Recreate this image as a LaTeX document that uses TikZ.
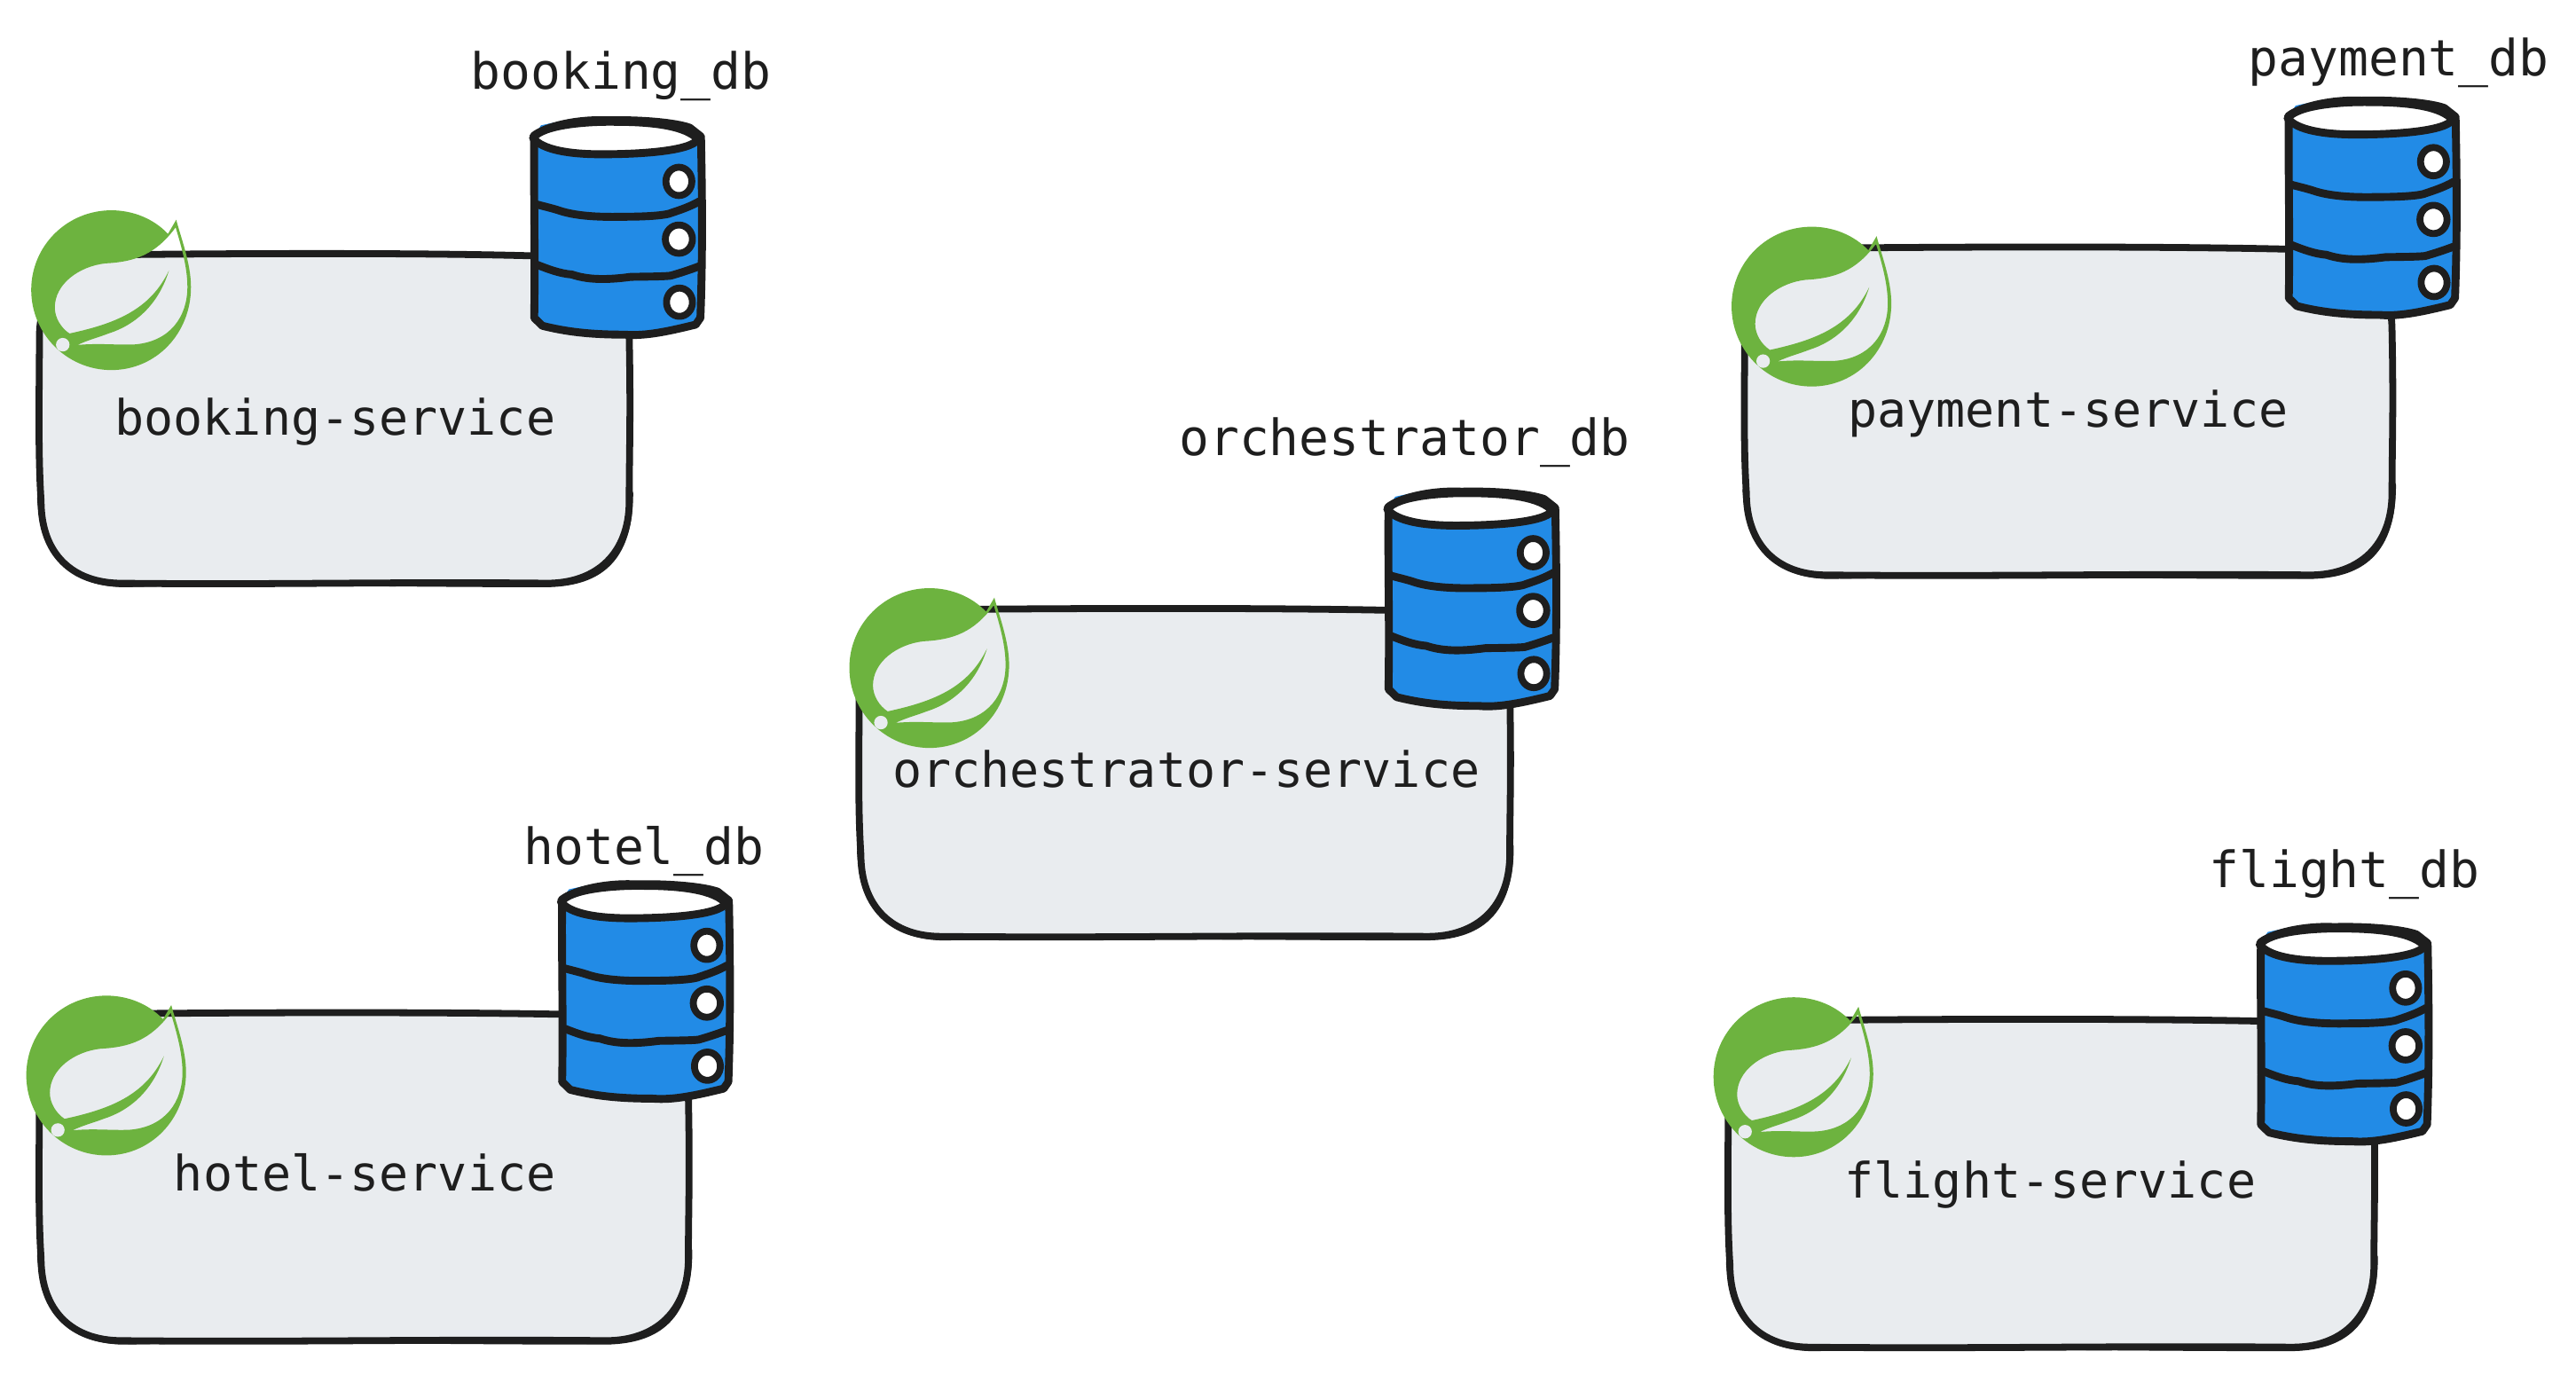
\documentclass[tikz,border=0pt]{standalone}
\usepackage{fontspec}
\setmonofont{DejaVu Sans Mono}
\definecolor{ink}{HTML}{1E1E1E}
\definecolor{boxfill}{HTML}{E9ECEF}
\definecolor{dbblue}{HTML}{228BE6}
\definecolor{leafgreen}{HTML}{6DB33F}
\tikzset{
  boxline/.style={draw=ink,line width=2.1pt,line cap=round,line join=round},
  dbline/.style={draw=ink,line width=2.4pt,line cap=round,line join=round},
  svclabel/.style={anchor=base,inner sep=0pt,text=ink,font=\ttfamily\fontsize{14.85}{18}\selectfont},
  dblabel/.style={anchor=base,inner sep=0pt,text=ink,font=\ttfamily\fontsize{15.2}{18}\selectfont}
}
% service box: #1 left, #2 top, #3 width, #4 height
\newcommand{\svcbox}[4]{%
  \begin{scope}[shift={(#1,#2)}]
    \pgfmathsetmacro{\wa}{#3}\pgfmathsetmacro{\hh}{#4}
    \fill[boxfill] (0,50) .. controls (0,20) and (20,0) .. (50,0) -- ({\wa-50},0) .. controls ({\wa-20},0) and (\wa,20) .. (\wa,50)
      -- (\wa,{\hh-50}) .. controls (\wa,{\hh-18}) and ({\wa-20},\hh) .. ({\wa-50},\hh) -- (50,\hh) .. controls (20,\hh) and (0,{\hh-18}) .. (0,{\hh-50}) -- cycle;
    \draw[boxline] (0,50) .. controls (0,20) and (20,0) .. (50,0) .. controls ({\wa*.4},-1) and ({\wa*.7},-1) .. ({\wa-50},1) .. controls ({\wa-20},1) and (\wa,20) .. (\wa,50)
      .. controls ({\wa+1},{\hh*.5}) and (\wa,{\hh*.6}) .. (\wa,{\hh-50}) .. controls (\wa,{\hh-18}) and ({\wa-20},\hh) .. ({\wa-50},\hh)
      .. controls ({\wa*.6},{\hh-1}) and ({\wa*.4},{\hh+1}) .. (50,\hh) .. controls (20,\hh) and (1,{\hh-18}) .. (1,{\hh-50})
      .. controls (-1,{\hh*.6}) and (0,{\hh*.4}) .. (0,50);
    \draw[boxline,line width=1.4pt] ({\wa+1},{\hh-55}) .. controls ({\wa+1},{\hh-14}) and ({\wa-18},{\hh+1}) .. ({\wa-52},{\hh+1})
      .. controls ({\wa*.6},{\hh+1}) and ({\wa*.4},{\hh-1}) .. (52,{\hh+1}) .. controls (22,{\hh+1}) and (2,{\hh-16}) .. (0,{\hh-52});
  \end{scope}}
% spring leaf: #1 left, #2 top
\newcommand{\springleaf}[2]{%
  \begin{scope}[shift={(#1,#2)},scale=.1794,shift={(-48,-60)}]
    \fill[leafgreen,even odd rule]
      (512,140) .. controls (465,90) and (395,60) .. (320,60)
      .. controls (170,60) and (48,180) .. (48,330)
      .. controls (48,480) and (170,602) .. (320,602)
      .. controls (470,602) and (590,480) .. (590,320)
      .. controls (590,240) and (555,150) .. (540,92) -- cycle
      (538,118) .. controls (555,175) and (578,250) .. (578,320)
      .. controls (578,420) and (520,505) .. (400,515)
      .. controls (340,518) and (280,510) .. (205,517)
      .. controls (240,500) and (280,490) .. (310,478)
      .. controls (400,450) and (480,380) .. (515,265)
      .. controls (450,400) and (330,445) .. (178,478)
      .. controls (150,460) and (128,425) .. (128,390)
      .. controls (128,310) and (210,250) .. (300,240)
      .. controls (400,235) and (470,210) .. (538,118) -- cycle;
    \fill[boxfill] (155,516) circle[radius=23];
  \end{scope}}
% database: #1 left, #2 top
\newcommand{\dbicon}[2]{%
  \begin{scope}[shift={(#1,#2)},scale=.1794,shift={(-50,-38)}]
    \fill[dbblue] (60,100) -- (85,62) .. controls (180,40) and (240,38) .. (310,38) .. controls (420,38) and (520,45) .. (590,65) -- (628,100) -- (632,710) -- (610,745) .. controls (500,770) and (440,778) .. (370,778) .. controls (250,775) and (170,770) .. (90,745) -- (62,715) -- cycle;
    \filldraw[fill=white,dbline] (58,105) .. controls (90,60) and (240,48) .. (340,50) .. controls (470,50) and (580,65) .. (618,110) .. controls (590,150) and (420,160) .. (290,160) .. controls (180,160) and (90,145) .. (58,105) -- cycle;
    \draw[dbline] (60,98) .. controls (100,65) and (210,40) .. (310,45) .. controls (420,42) and (540,52) .. (590,70) -- (628,100);
    \draw[dbline] (62,110) .. controls (60,300) and (66,500) .. (62,715) -- (90,742) .. controls (170,762) and (250,772) .. (370,772) .. controls (440,778) and (520,760) .. (610,738) -- (626,715) .. controls (634,500) and (632,300) .. (628,105);
    \draw[dbline] (70,330) .. controls (100,338) and (130,345) .. (150,352) .. controls (200,368) and (270,374) .. (360,372) .. controls (440,372) and (510,368) .. (530,358) .. controls (560,348) and (590,338) .. (622,320);
    \draw[dbline] (72,535) .. controls (110,550) and (150,565) .. (190,568) .. controls (240,585) and (300,588) .. (390,576) .. controls (440,575) and (500,575) .. (525,572) .. controls (560,562) and (590,552) .. (622,540);
    \filldraw[fill=white,dbline,line width=2.1pt] (553,252) ellipse[x radius=44,y radius=48];
    \filldraw[fill=white,dbline,line width=2.1pt] (553,448) ellipse[x radius=46,y radius=48];
    \filldraw[fill=white,dbline,line width=2.1pt] (555,662) ellipse[x radius=44,y radius=48];
  \end{scope}}
\begin{document}
\begin{tikzpicture}[x=.5pt,y=-.5pt]
\useasboundingbox (0,0) rectangle (1568,836.4);
% booking
\svcbox{24}{155}{359}{200}
\springleaf{19}{128}
\dbicon{323}{72}
\node[svclabel] (bookingsvc) at (204,265) {booking-service};
\node[dblabel] (bookingdb) at (378,54) {booking\_db};
% payment
\svcbox{1062}{151}{394}{199}
\springleaf{1054}{138}
\dbicon{1391}{60}
\node[svclabel] (paymentsvc) at (1259,260) {payment-service};
\node[dblabel] (paymentdb) at (1460,46) {payment\_db};
% orchestrator
\svcbox{523}{371}{396}{199}
\springleaf{517}{358}
\dbicon{843}{298}
\node[svclabel] (orchsvc) at (722,479) {orchestrator-service};
\node[dblabel] (orchdb) at (855,277) {orchestrator\_db};
% hotel
\svcbox{24}{617}{395}{199}
\springleaf{16}{606}
\dbicon{340}{537}
\node[svclabel] (hotelsvc) at (222,725) {hotel-service};
\node[dblabel] (hoteldb) at (392,526) {hotel\_db};
% flight
\svcbox{1052}{621}{393}{199}
\springleaf{1043}{607}
\dbicon{1374}{563}
\node[svclabel] (flightsvc) at (1248,729) {flight-service};
\node[dblabel] (flightdb) at (1427,540) {flight\_db};
\end{tikzpicture}
\end{document}
